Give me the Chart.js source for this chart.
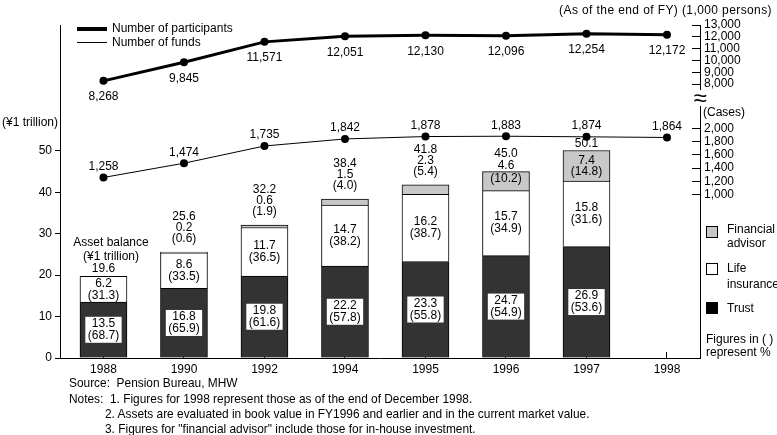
<!DOCTYPE html>
<html>
<head>
<meta charset="utf-8">
<script src="https://cdn.jsdelivr.net/npm/chart.js@4.4.1/dist/chart.umd.min.js"></script>
<style>
  html, body { margin: 0; padding: 0; background: #fff; }
  #wrap { position: relative; width: 777px; height: 435px; overflow: hidden; font-family: "Liberation Sans", Arial, sans-serif; font-size: 12px; color: #000; }
  #wrap canvas { position: absolute; left: 0; top: 0; }
  .t { position: absolute; white-space: nowrap; line-height: 14px; }
  .note { position: absolute; white-space: nowrap; line-height: 14px; font-size: 11.9px; }
  .sw { position: absolute; width: 12px; height: 12px; border: 1px solid #000; box-sizing: border-box; }
  .ln { position: absolute; background: #000; }
  .brk { position: absolute; left: 689px; top: 90px; width: 22px; height: 16px; background: #fff; font-size: 24px; line-height: 16px; text-align: center; }
</style>
</head>
<body>
<div id="wrap">
  <canvas id="pensionChart" width="777" height="435"></canvas>

  <div class="ln" style="left:77px; top:27px; width:30px; height:4px;"></div>
  <div class="t" style="left:112px; top:21px;">Number of participants</div>
  <div class="ln" style="left:77px; top:42px; width:30px; height:1px;"></div>
  <div class="t" style="left:112px; top:35px;">Number of funds</div>

  <div class="t" style="right:5px; top:3px; letter-spacing:0.4px;">(As of the end of FY) (1,000 persons)</div>
  <div class="t" style="left:2px; top:115px;">(¥1 trillion)</div>
  <div class="brk">≈</div>
  <div class="t" style="left:703px; top:105px;">(Cases)</div>

  <div class="t" style="left:73px; top:235px; text-align:center; width:76px;">Asset balance<br>(¥1 trillion)</div>

  <div class="sw" style="left:706px; top:226px; background:#c8c8c8;"></div>
  <div class="t" style="left:727px; top:222px;">Financial<br>advisor</div>
  <div class="sw" style="left:706px; top:263px; background:#fff;"></div>
  <div class="t" style="left:727px; top:260px; line-height:16px;">Life<br>insurance</div>
  <div class="sw" style="left:706px; top:302px; background:#000;"></div>
  <div class="t" style="left:727px; top:301px;">Trust</div>
  <div class="t" style="left:706px; top:333px; line-height:13px;">Figures in ( )<br>represent %</div>

  <div class="note" style="left:69px; top:376px;">Source:&nbsp;&nbsp;Pension Bureau, MHW</div>
  <div class="note" style="left:69px; top:392px;">Notes:&nbsp;&nbsp;1. Figures for 1998 represent those as of the end of December 1998.</div>
  <div class="note" style="left:105px; top:407px;">2. Assets are evaluated in book value in FY1996 and earlier and in the current market value.</div>
  <div class="note" style="left:105px; top:422px;">3. Figures for "financial advisor" include those for in-house investment.</div>
</div>

<script>
// Fiscal years (1998 = end of December 1998)
const years = ['1988', '1990', '1992', '1994', '1995', '1996', '1997', '1998'];

// Asset balance, ¥1 trillion
const trust = [13.5, 16.8, 19.8, 22.2, 23.3, 24.7, 26.9, null];
const lifeInsurance = [6.2, 8.6, 11.7, 14.7, 16.2, 15.7, 15.8, null];
const financialAdvisor = [null, 0.2, 0.6, 1.5, 2.3, 4.6, 7.4, null];
const totalAssets = [19.6, 25.6, 32.2, 38.4, 41.8, 45.0, 50.1, null];

// Shares, %
const trustPct = [68.7, 65.9, 61.6, 57.8, 55.8, 54.9, 53.6, null];
const lifePct = [31.3, 33.5, 36.5, 38.2, 38.7, 34.9, 31.6, null];
const advisorPct = [null, 0.6, 1.9, 4.0, 5.4, 10.2, 14.8, null];

// Number of participants (1,000 persons) and number of funds (cases)
const participants = [8268, 9845, 11571, 12051, 12130, 12096, 12254, 12172];
const funds = [1258, 1474, 1735, 1842, 1878, 1883, 1874, 1864];

// Tick labels
const assetTicks = [0, 10, 20, 30, 40, 50];
const fundTicks = [1000, 1200, 1400, 1600, 1800, 2000];
const participantTicks = [8000, 9000, 10000, 11000, 12000, 13000];

const FONT = '"Liberation Sans", Arial, sans-serif';
const xMin = -0.54, xMax = 7.41;

const pts = arr => arr.map((v, i) => ({ x: i, y: v }));
const fmt = v => v.toLocaleString('en-US');

// both right-hand axes share the same spine
const sharedRightAxis = {
    id: 'sharedRightAxis',
    afterLayout(chart) {
        const p = chart.scales.yp, f = chart.scales.yf;
        f.left = p.left;
        f.right = p.right;
        f.width = p.width;
    }
};

const dataLabels = {
    id: 'dataLabels',
    afterDatasetsDraw(chart) {
        const ctx = chart.ctx;
        const trustEls = chart.getDatasetMeta(0).data;
        const lifeEls = chart.getDatasetMeta(1).data;
        const advEls = chart.getDatasetMeta(2).data;
        const partEls = chart.getDatasetMeta(3).data;
        const fundEls = chart.getDatasetMeta(4).data;

        ctx.save();
        ctx.font = '12px ' + FONT;
        ctx.textAlign = 'center';
        ctx.textBaseline = 'middle';

        years.forEach((yr, i) => {
            if (trust[i] !== null) {
                const el = trustEls[i];
                const cy = (el.y + el.base) / 2;
                const line2 = '(' + trustPct[i].toFixed(1) + ')';
                const w = ctx.measureText(line2).width + 5;
                ctx.fillStyle = '#fff';
                ctx.fillRect(el.x - w / 2, cy - 13, w, 26);
                ctx.fillStyle = '#000';
                ctx.fillText(trust[i].toFixed(1), el.x, cy - 6);
                ctx.fillText(line2, el.x, cy + 6);
            }
            if (lifeInsurance[i] !== null) {
                const el = lifeEls[i];
                const cy = (el.y + el.base) / 2;
                ctx.fillStyle = '#000';
                ctx.fillText(lifeInsurance[i].toFixed(1), el.x, cy - 6);
                ctx.fillText('(' + lifePct[i].toFixed(1) + ')', el.x, cy + 6);
            }
            if (totalAssets[i] !== null) {
                ctx.fillStyle = '#000';
                if (financialAdvisor[i] === null) {
                    const el = lifeEls[i];
                    ctx.fillText(totalAssets[i].toFixed(1), el.x, el.y - 8);
                    return;
                }
                const a = advEls[i];
                const top = a.y;
                const segH = a.base - a.y;
                const segC = (a.y + a.base) / 2;
                const val = financialAdvisor[i].toFixed(1);
                const pct = '(' + advisorPct[i].toFixed(1) + ')';
                if (segH > 25) {
                    ctx.fillText(val, a.x, segC - 5);
                    ctx.fillText(pct, a.x, segC + 6);
                    ctx.fillText(totalAssets[i].toFixed(1), a.x, top - 7);
                } else if (segH > 15) {
                    ctx.fillText(pct, a.x, segC - 2);
                    ctx.fillText(val, a.x, top - 6);
                    ctx.fillText(totalAssets[i].toFixed(1), a.x, top - 18);
                } else {
                    ctx.fillText(pct, a.x, top - 13);
                    ctx.fillText(val, a.x, top - 24);
                    ctx.fillText(totalAssets[i].toFixed(1), a.x, top - 35);
                }
            }
        });

        partEls.forEach((el, i) => {
            ctx.fillText(fmt(participants[i]), el.x, el.y + 16);
        });
        fundEls.forEach((el, i) => {
            ctx.fillText(fmt(funds[i]), el.x, el.y - 11);
        });
        ctx.restore();
    }
};

const barBase = {
    type: 'bar',
    xAxisID: 'x',
    yAxisID: 'y',
    borderColor: '#000',
    borderWidth: 1,
    barThickness: 47,
    order: 2
};

new Chart(document.getElementById('pensionChart'), {
    type: 'bar',
    data: {
        datasets: [
            { ...barBase, label: 'Trust', data: pts(trust), backgroundColor: '#333333' },
            { ...barBase, label: 'Life insurance', data: pts(lifeInsurance), backgroundColor: '#ffffff' },
            { ...barBase, label: 'Financial advisor', data: pts(financialAdvisor), backgroundColor: '#c8c8c8' },
            {
                type: 'line', label: 'Number of participants', data: pts(participants),
                xAxisID: 'x', yAxisID: 'yp',
                borderColor: '#000', borderWidth: 3, pointRadius: 4, pointBackgroundColor: '#000',
                pointBorderWidth: 0, tension: 0, order: 1
            },
            {
                type: 'line', label: 'Number of funds', data: pts(funds),
                xAxisID: 'x', yAxisID: 'yf',
                borderColor: '#000', borderWidth: 1, pointRadius: 4, pointBackgroundColor: '#000',
                pointBorderWidth: 0, tension: 0, order: 1
            }
        ]
    },
    options: {
        responsive: false,
        animation: false,
        layout: { padding: { left: 0, right: 0, top: 25, bottom: 0 } },
        plugins: { legend: { display: false }, tooltip: { enabled: false } },
        scales: {
            xt: {
                type: 'linear', position: 'bottom', offset: false, min: xMin, max: xMax,
                afterBuildTicks: s => { s.ticks = years.slice(1).map((_, i) => ({ value: i + 0.5 })); },
                afterFit: s => { s.height = 0; },
                ticks: { display: false },
                grid: { drawOnChartArea: false, tickLength: -6, color: '#000' },
                border: { display: false }
            },
            x: {
                type: 'linear', position: 'bottom', offset: false, stacked: true, min: xMin, max: xMax,
                afterBuildTicks: s => { s.ticks = years.map((_, i) => ({ value: i })); },
                afterFit: s => { s.height = 77; },
                ticks: {
                    callback: v => years[v], autoSkip: false, maxRotation: 0,
                    color: '#000', font: { family: FONT, size: 12 }, padding: 4
                },
                grid: { display: false, drawTicks: false },
                border: { display: true, color: '#000', width: 1 }
            },
            y: {
                type: 'linear', position: 'left', stacked: true, min: 0, max: 80.4,
                afterBuildTicks: s => { s.ticks = assetTicks.map(v => ({ value: v })); },
                afterFit: s => { s.width = 60; },
                ticks: { color: '#000', font: { family: FONT, size: 12 }, padding: 3 },
                grid: { drawOnChartArea: false, tickLength: 5, color: '#000' },
                border: { display: true, color: '#000', width: 1 }
            },
            yp: {
                type: 'linear', position: 'right', min: -15220, max: 13000,
                afterBuildTicks: s => { s.ticks = participantTicks.map(v => ({ value: v })); },
                afterFit: s => { s.width = 77; },
                ticks: { color: '#000', font: { family: FONT, size: 12 }, padding: 12, callback: v => fmt(v) },
                grid: { drawOnChartArea: false, tickLength: -8, color: '#000' },
                border: { display: false }
            },
            yf: {
                type: 'linear', position: 'right', min: -1477, max: 3568,
                afterBuildTicks: s => { s.ticks = fundTicks.map(v => ({ value: v })); },
                afterFit: s => { s.width = 0; },
                ticks: { color: '#000', font: { family: FONT, size: 12 }, padding: 12, callback: v => fmt(v) },
                grid: { drawOnChartArea: false, tickLength: -8, color: '#000' },
                border: { display: true, color: '#000', width: 1 }
            }
        }
    },
    plugins: [sharedRightAxis, dataLabels]
});
</script>
</body>
</html>
